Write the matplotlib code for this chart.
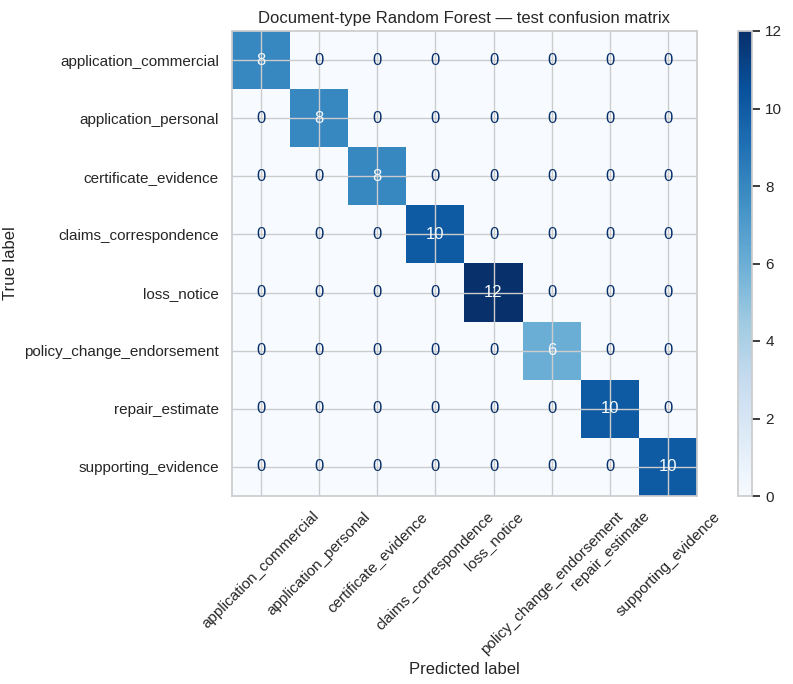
import numpy as np
import matplotlib
matplotlib.use("Agg")
import matplotlib.pyplot as plt
import seaborn as sns

sns.set_theme(style="whitegrid")
plt.rcParams["font.family"] = ["Liberation Sans", "DejaVu Sans"]

labels = ["application_commercial", "application_personal", "certificate_evidence",
          "claims_correspondence", "loss_notice", "policy_change_endorsement",
          "repair_estimate", "supporting_evidence"]
diag_counts = [8, 8, 8, 10, 12, 6, 10, 10]

cm = np.diag(diag_counts)
n = len(labels)

fig = plt.figure(figsize=(7.93, 6.84), dpi=100)
ax = fig.add_axes([232 / 793, 1 - 496 / 684, 465 / 793, 465 / 684])
cax = fig.add_axes([738 / 793, 1 - 496 / 684, 14 / 793, 465 / 684])

cmap = plt.get_cmap("Blues")
im = ax.imshow(cm, cmap=cmap, interpolation="nearest", aspect="auto")
fig.colorbar(im, cax=cax)

cmap_min, cmap_max = cmap(0), cmap(1.0)
thresh = (cm.max() + cm.min()) / 2.0
for i in range(n):
    for j in range(n):
        color = cmap_max if cm[i, j] < thresh else cmap_min
        ax.text(j, i, f"{cm[i, j]}", ha="center", va="center", color=color, fontsize=12)

ax.set_xticks(range(n))
ax.set_yticks(range(n))
ax.set_xticklabels(labels, rotation=45)
ax.set_yticklabels(labels)
ax.set_xlim(-0.5, n - 0.5)
ax.set_ylim(n - 0.5, -0.5)
ax.set_xlabel("Predicted label")
ax.set_ylabel("True label")
ax.set_title("Document-type Random Forest \u2014 test confusion matrix")

fig.savefig("out.png", dpi=100)
